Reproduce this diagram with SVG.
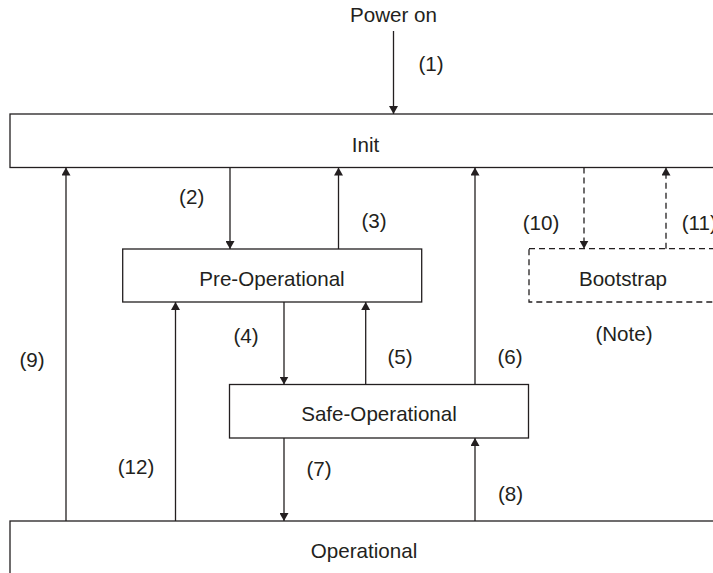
<svg xmlns="http://www.w3.org/2000/svg" width="713" height="573" viewBox="0 0 713 573">
  <defs>
    <marker id="arrow" viewBox="0 0 8 9" refX="8" refY="4.5" markerWidth="8" markerHeight="9" markerUnits="userSpaceOnUse" orient="auto">
      <path d="M0,0 L8,4.5 L0,9 z" fill="#231f20"/>
    </marker>
    <style>
      .box { fill: #ffffff; stroke: #231f20; stroke-width: 1.3; }
      .dash { fill: #ffffff; stroke: #231f20; stroke-width: 1.3; stroke-dasharray: 6 4; }
      .line { fill: none; stroke: #231f20; stroke-width: 1.3; marker-end: url(#arrow); }
      .dline { fill: none; stroke: #231f20; stroke-width: 1.3; stroke-dasharray: 6 4; marker-end: url(#arrow); }
      text { font-family: "Liberation Sans", Arial, sans-serif; font-size: 20.6px; fill: #231f20; }
      .c { text-anchor: middle; }
    </style>
  </defs>
  <rect width="713" height="573" fill="#ffffff"/>

  <!-- state boxes -->
  <g id="init">
    <rect class="box" x="10" y="114" width="712" height="53.5"/>
    <text class="c" x="365.5" y="151.5">Init</text>
  </g>
  <g id="pre-operational">
    <rect class="box" x="122.7" y="249" width="299" height="53"/>
    <text class="c" x="272" y="285.5">Pre-Operational</text>
  </g>
  <g id="safe-operational">
    <rect class="box" x="229.5" y="384.5" width="299" height="53.5"/>
    <text class="c" x="379" y="420.5">Safe-Operational</text>
  </g>
  <g id="bootstrap">
    <rect class="dash" x="529" y="248.7" width="190" height="53.3"/>
    <text class="c" x="623" y="285.5">Bootstrap</text>
  </g>
  <g id="operational">
    <rect class="box" x="10" y="521" width="712" height="70"/>
    <text class="c" x="364" y="557.5">Operational</text>
  </g>

  <!-- transitions -->
  <g id="connectors">
    <line class="line" x1="393.5" y1="31" x2="393.5" y2="114"/>
    <line class="line" x1="230" y1="167.5" x2="230" y2="249"/>
    <line class="line" x1="338.5" y1="249" x2="338.5" y2="167.5"/>
    <line class="line" x1="284" y1="302" x2="284" y2="384.5"/>
    <line class="line" x1="365.7" y1="384.5" x2="365.7" y2="302"/>
    <line class="line" x1="475" y1="384.5" x2="475" y2="167.5"/>
    <line class="line" x1="284" y1="438" x2="284" y2="521"/>
    <line class="line" x1="475" y1="521" x2="475" y2="438"/>
    <line class="line" x1="66" y1="521" x2="66" y2="167.5"/>
    <line class="line" x1="175.5" y1="521" x2="175.5" y2="302"/>
    <line class="dline" x1="584" y1="167.5" x2="584" y2="248.7"/>
    <line class="dline" x1="666" y1="248.7" x2="666" y2="167.5"/>
  </g>

  <!-- labels -->
  <g id="labels">
    <text class="c" x="393.5" y="21.7">Power on</text>
    <text class="c" x="431" y="70.7">(1)</text>
    <text class="c" x="191.7" y="204">(2)</text>
    <text class="c" x="374" y="228.4">(3)</text>
    <text class="c" x="246" y="343">(4)</text>
    <text class="c" x="400" y="364">(5)</text>
    <text class="c" x="510" y="364">(6)</text>
    <text class="c" x="319" y="475.7">(7)</text>
    <text class="c" x="510.5" y="501.4">(8)</text>
    <text class="c" x="32" y="367.4">(9)</text>
    <text class="c" x="541" y="229.7">(10)</text>
    <text x="681.7" y="229.7">(11)</text>
    <text class="c" x="136" y="473.7">(12)</text>
    <text class="c" x="624" y="340.7">(Note)</text>
  </g>
</svg>
